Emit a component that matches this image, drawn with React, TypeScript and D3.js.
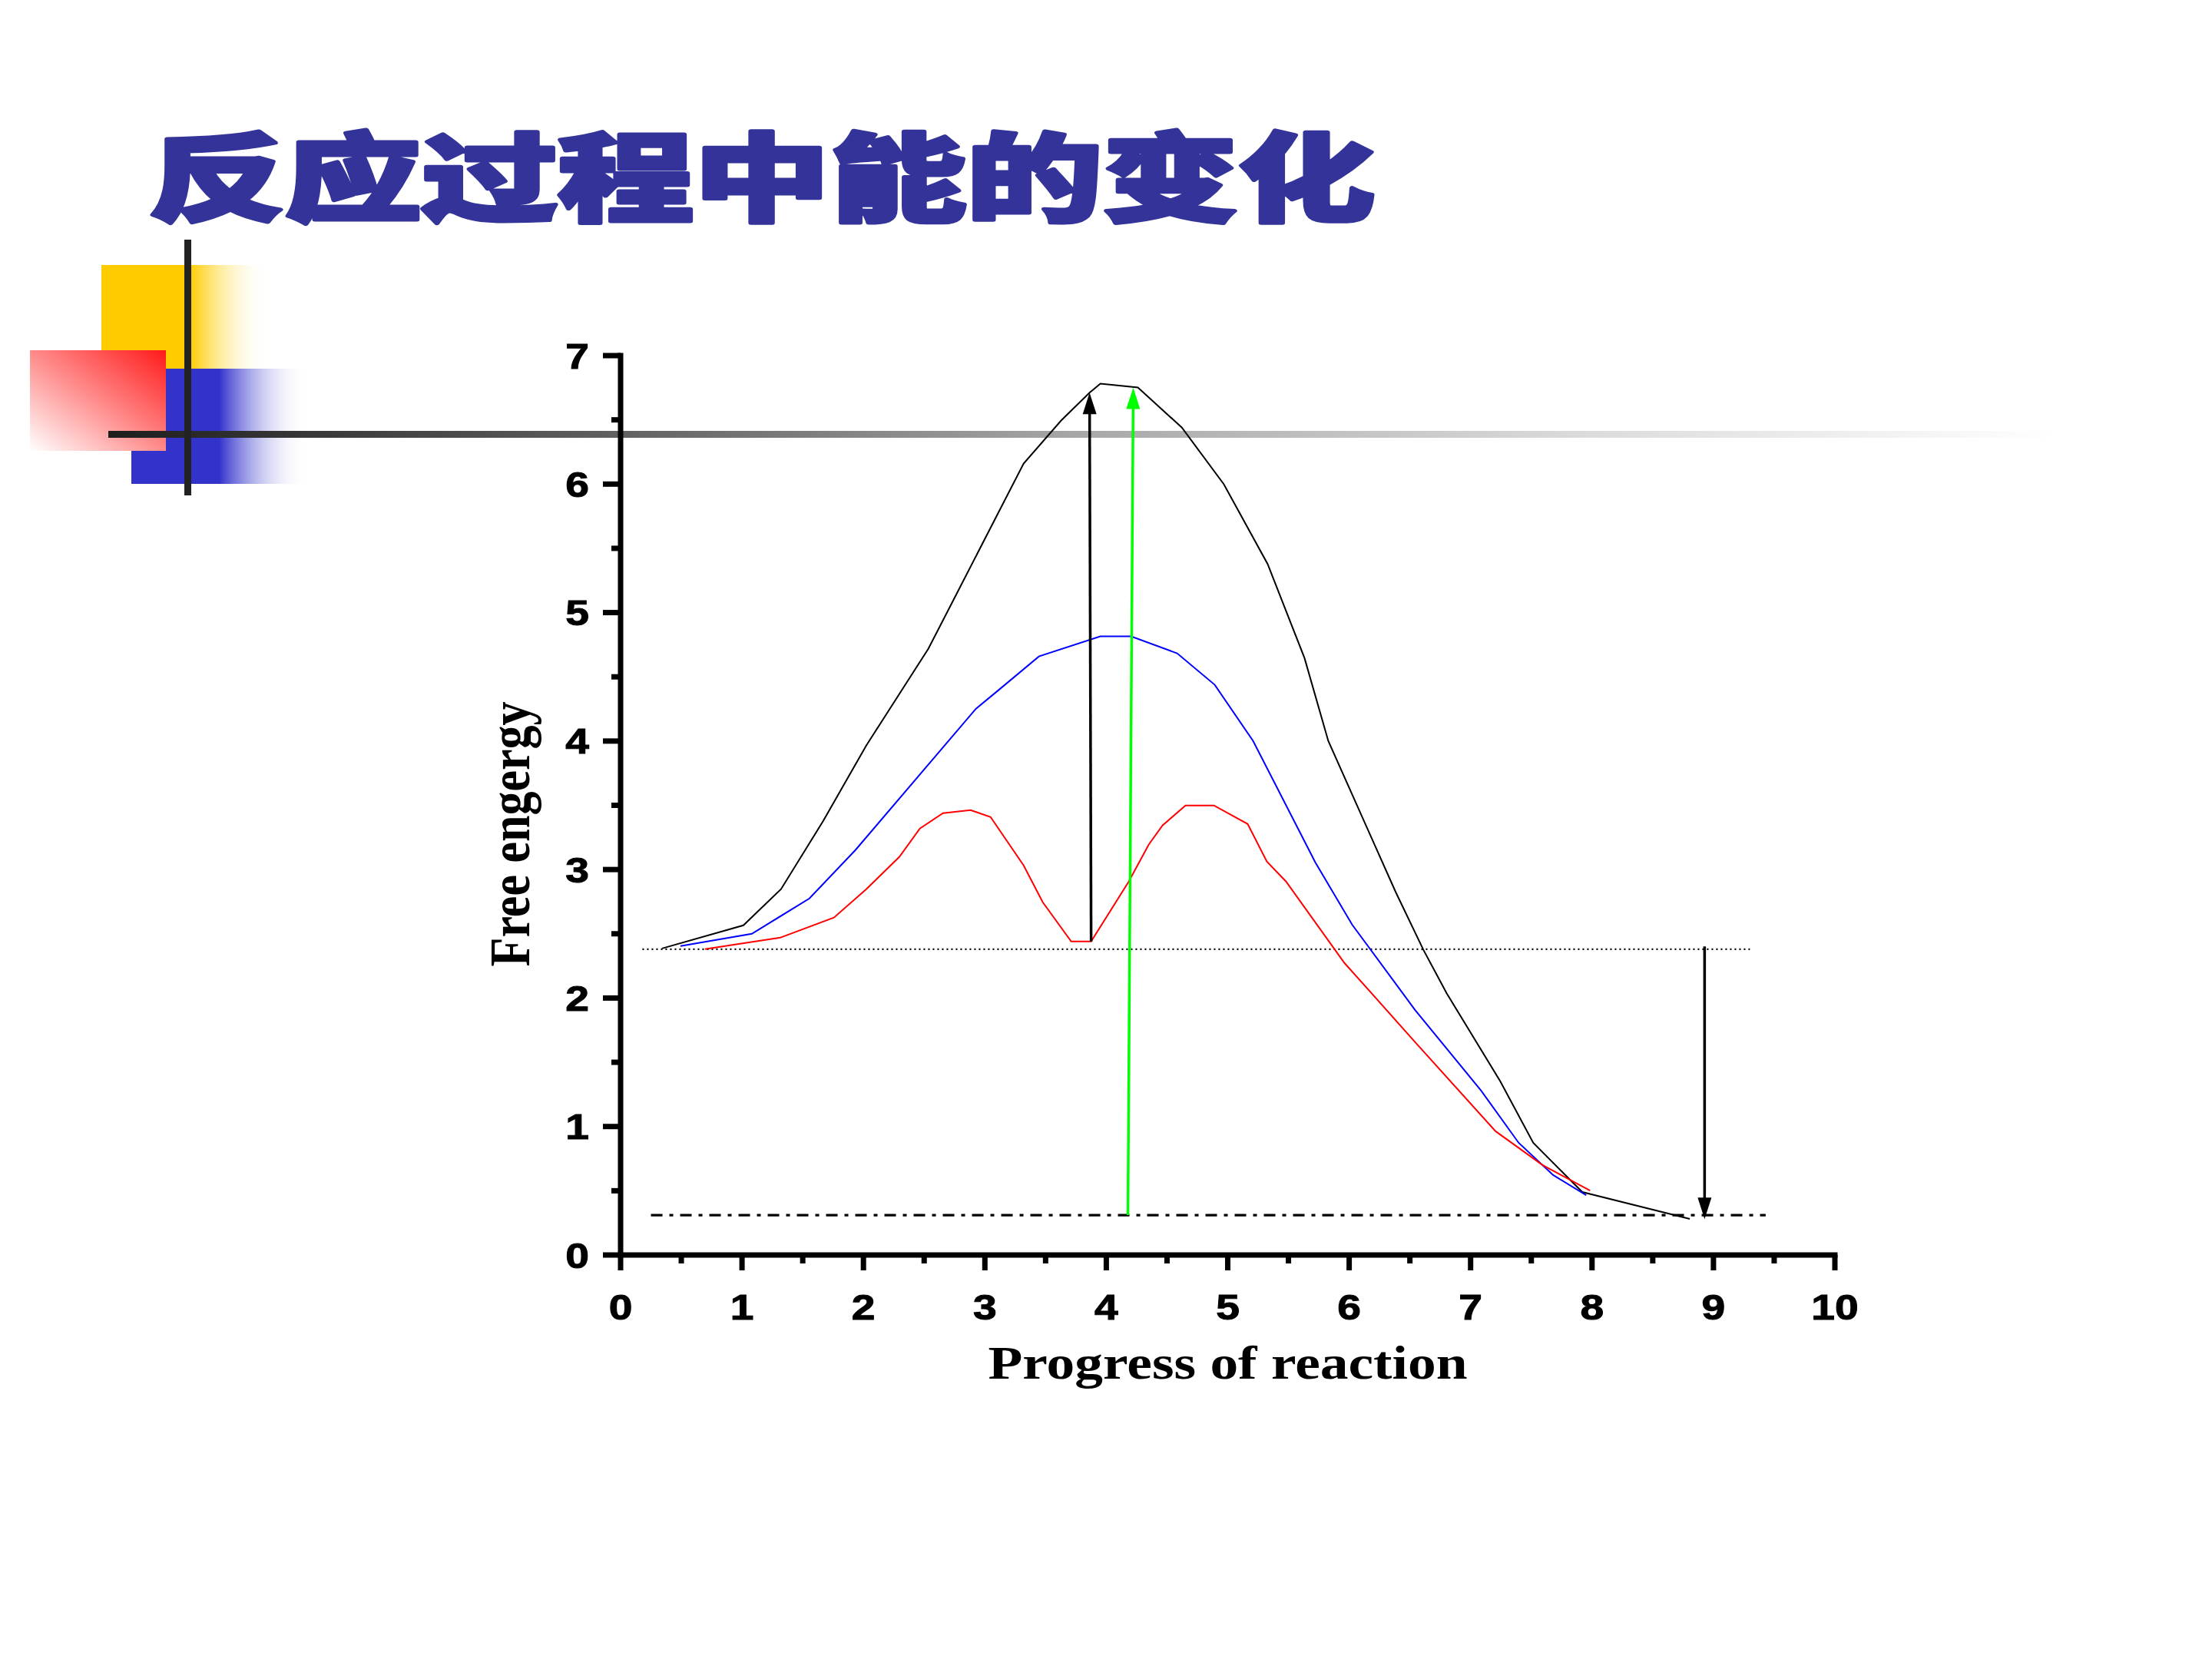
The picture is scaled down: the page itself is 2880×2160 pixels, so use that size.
import React from 'react';
import * as d3 from 'd3';

const titleText = '反应过程中能的变化';
const xLabel = 'Progress of reaction';
const yLabel = 'Free engergy';

const xTicks = [0, 1, 2, 3, 4, 5, 6, 7, 8, 9, 10];
const xMinorTicks = [0.5, 1.5, 2.5, 3.5, 4.5, 5.5, 6.5, 7.5, 8.5, 9.5];
const yTicks = [0, 1, 2, 3, 4, 5, 6, 7];
const yMinorTicks = [0.5, 1.5, 2.5, 3.5, 4.5, 5.5, 6.5];

type P = [number, number];

const blackCurve: P[] = [
  [0.341, 2.386], [1.011, 2.566], [1.321, 2.847], [1.669, 3.379], [2.023, 3.965],
  [2.535, 4.719], [3.319, 6.16], [3.628, 6.495], [3.862, 6.711], [3.951, 6.782],
  [4.26, 6.752], [4.621, 6.441], [4.968, 5.999], [5.329, 5.377], [5.632, 4.647],
  [5.828, 4.001], [6.384, 2.823], [6.612, 2.374], [6.802, 2.039], [7.244, 1.352],
  [7.516, 0.873], [7.92, 0.49], [8.805, 0.281],
];

const blueCurve: P[] = [
  [0.493, 2.404], [1.081, 2.5], [1.555, 2.775], [1.934, 3.152], [2.927, 4.252],
  [3.104, 4.39], [3.445, 4.659], [3.951, 4.815], [4.204, 4.815], [4.583, 4.683],
  [4.893, 4.438], [5.209, 4.001], [5.721, 3.056], [6.024, 2.572], [6.542, 1.908],
  [7.086, 1.28], [7.396, 0.873], [7.68, 0.622], [7.952, 0.466],
];

const redCurve: P[] = [
  [0.695, 2.38], [1.315, 2.47], [1.757, 2.626], [2.023, 2.847], [2.295, 3.098],
  [2.465, 3.319], [2.655, 3.439], [2.882, 3.463], [3.047, 3.409], [3.319, 3.032],
  [3.477, 2.745], [3.711, 2.44], [3.875, 2.44], [4.185, 2.907], [4.349, 3.194],
  [4.463, 3.343], [4.652, 3.499], [4.886, 3.499], [5.164, 3.355], [5.322, 3.062],
  [5.48, 2.907], [5.961, 2.273], [6.549, 1.651], [7.206, 0.963], [7.592, 0.7],
  [7.984, 0.502],
];

// arrows: from -> to (data units)
const arrowFrom: P[] = [[3.875, 2.44], [4.178, 0.311], [8.927, 2.402]];
const arrowTo: P[] = [[3.862, 6.711], [4.222, 6.752], [8.927, 0.279]];
const arrowColors = ['#000000', '#00ff00', '#000000'];

const dottedLevel = 2.38;
const dottedRange = [0.18, 9.3];
const dashDotLevel = 0.31;
const dashDotRange = [0.25, 9.43];

export default function App() {
  const W = 2880;
  const H = 2160;
  const x = d3.scaleLinear().domain([0, 10]).range([808, 2389]);
  const y = d3.scaleLinear().domain([0, 7]).range([1634, 463]);
  const line = d3.line<P>().x((d) => x(d[0])).y((d) => y(d[1]));

  const tickFont = "'Liberation Sans', Arial, sans-serif";
  const serif = "'Liberation Serif', 'Times New Roman', serif";

  const arrows = arrowFrom.map((f, i) => {
    const t = arrowTo[i];
    const x1 = x(f[0]), y1 = y(f[1]), x2 = x(t[0]), y2 = y(t[1]);
    const len = Math.hypot(x2 - x1, y2 - y1);
    const ux = (x2 - x1) / len, uy = (y2 - y1) / len;
    const hl = 28, hw = 9;
    const bx = x2 - ux * hl, by = y2 - uy * hl;
    const px = -uy, py = ux;
    const head = `M${x2},${y2} L${bx + px * hw},${by + py * hw} L${bx - px * hw},${by - py * hw} Z`;
    return { x1, y1, sx: x2 - ux * 20, sy: y2 - uy * 20, head, color: arrowColors[i] };
  });

  return (
    <svg width={W} height={H} style={{ position: 'absolute', left: 0, top: 0, background: '#fff' }}>
      <defs>
        <linearGradient id="gYellow" x1="0" y1="0" x2="1" y2="0">
          <stop offset="0" stopColor="#ffcc00" />
          <stop offset="0.53" stopColor="#ffcc00" />
          <stop offset="1" stopColor="#ffffff" stopOpacity="0" />
        </linearGradient>
        <linearGradient id="gBlue" x1="0" y1="0" x2="1" y2="0">
          <stop offset="0" stopColor="#3333cc" />
          <stop offset="0.5" stopColor="#3333cc" />
          <stop offset="1" stopColor="#ffffff" stopOpacity="0" />
        </linearGradient>
        <linearGradient id="gRed" x1="1" y1="0" x2="0" y2="1">
          <stop offset="0" stopColor="#ff1a1a" />
          <stop offset="0.5" stopColor="#ff8a8a" />
          <stop offset="1" stopColor="#ffffff" />
        </linearGradient>
        <linearGradient id="gLine" x1="0" y1="0" x2="1" y2="0">
          <stop offset="0" stopColor="#1e1e1e" />
          <stop offset="0.25" stopColor="#5e5e5e" />
          <stop offset="0.5" stopColor="#a8a8a8" />
          <stop offset="0.75" stopColor="#dadada" />
          <stop offset="1" stopColor="#ffffff" />
        </linearGradient>
      </defs>
      <rect width={W} height={H} fill="#ffffff" />

      {/* decoration */}
      <rect x={132} y={345} width={218} height={135} fill="url(#gYellow)" />
      <rect x={171} y={480} width={229} height={150} fill="url(#gBlue)" />
      <rect x={39} y={456} width={177} height={131} fill="url(#gRed)" />
      <rect x={141} y={561} width={2540} height={9} fill="url(#gLine)" />
      <rect x={240} y={312} width={9} height={333} fill="#222222" />

      {/* title */}
      <text
        x={194}
        y={278}
        fontSize={125}
        textLength={1596}
        lengthAdjust="spacingAndGlyphs"
        fill="#333399"
        stroke="#333399"
        strokeWidth={5}
        strokeLinejoin="round"
        fontFamily="'Noto Sans CJK SC', sans-serif"
        fontWeight={900}
      >
        {titleText}
      </text>

      {/* reference lines */}
      <line
        x1={x(dottedRange[0])} x2={x(dottedRange[1])}
        y1={y(dottedLevel)} y2={y(dottedLevel)}
        stroke="#000" strokeWidth={2.2} strokeDasharray="2,4"
      />
      <line
        x1={x(dashDotRange[0])} x2={x(dashDotRange[1])}
        y1={y(dashDotLevel)} y2={y(dashDotLevel)}
        stroke="#000" strokeWidth={3.2} strokeDasharray="15,9,5,9"
      />

      {/* curves */}
      <path d={line(blackCurve) || ''} fill="none" stroke="#000000" strokeWidth={2} />
      <path d={line(blueCurve) || ''} fill="none" stroke="#0000ff" strokeWidth={2} />
      <path d={line(redCurve) || ''} fill="none" stroke="#ff0000" strokeWidth={2} />

      {/* arrows */}
      {arrows.map((a, i) => (
        <g key={i}>
          <line x1={a.x1} y1={a.y1} x2={a.sx} y2={a.sy} stroke={a.color} strokeWidth={3.5} />
          <path d={a.head} fill={a.color} />
        </g>
      ))}

      {/* axes */}
      <g stroke="#000" strokeWidth={7} strokeLinecap="square">
        <line x1={x(0)} x2={x(10)} y1={y(0)} y2={y(0)} />
        <line x1={x(0)} x2={x(0)} y1={y(0)} y2={y(7)} />
      </g>
      <g stroke="#000" strokeWidth={7}>
        {yTicks.map((t) => (
          <line key={'ym' + t} x1={x(0) - 23} x2={x(0)} y1={y(t)} y2={y(t)} />
        ))}
        {yMinorTicks.map((t) => (
          <line key={'yn' + t} x1={x(0) - 12} x2={x(0)} y1={y(t)} y2={y(t)} />
        ))}
        {xTicks.map((t) => (
          <line key={'xm' + t} x1={x(t)} x2={x(t)} y1={y(0)} y2={y(0) + 20} />
        ))}
        {xMinorTicks.map((t) => (
          <line key={'xn' + t} x1={x(t)} x2={x(t)} y1={y(0)} y2={y(0) + 11} />
        ))}
      </g>
      {yTicks.map((t) => (
        <text
          key={'yl' + t}
          transform={`translate(767, ${y(t) + 16.5}) scale(1.2,1)`}
          textAnchor="end"
          fontSize={46}
          fontWeight="bold"
          fontFamily={tickFont}
          fill="#000"
          stroke="#000"
          strokeWidth={1}
        >
          {t}
        </text>
      ))}
      {xTicks.map((t) => (
        <text
          key={'xl' + t}
          transform={`translate(${x(t)}, 1718) scale(1.2,1)`}
          textAnchor="middle"
          fontSize={46}
          fontWeight="bold"
          fontFamily={tickFont}
          fill="#000"
          stroke="#000"
          strokeWidth={1}
        >
          {t}
        </text>
      ))}
      <text
        x={(x(0) + x(10)) / 2}
        y={1795}
        textAnchor="middle"
        fontSize={61}
        fontWeight="bold"
        fontFamily={serif}
        textLength={624}
        lengthAdjust="spacingAndGlyphs"
        fill="#000"
      >
        {xLabel}
      </text>
      <text
        transform={`translate(689, 1086) scale(1.2,1) rotate(-90)`}
        textAnchor="middle"
        fontSize={62}
        fontWeight="bold"
        fontFamily={serif}
        fill="#000"
      >
        {yLabel}
      </text>
    </svg>
  );
}
